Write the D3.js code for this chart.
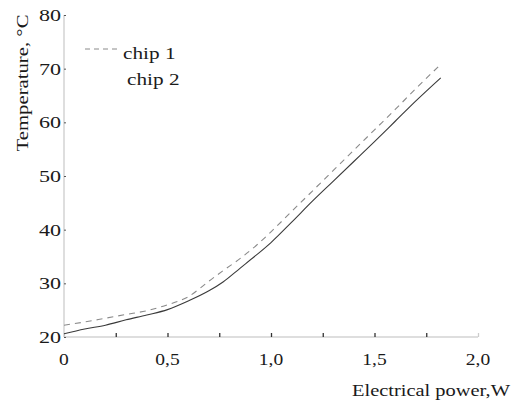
<!DOCTYPE html>
<html><head><meta charset="utf-8">
<script src="https://cdn.jsdelivr.net/npm/d3@7"></script>
<style>body{margin:0;background:#fff}svg{display:block}</style>
</head><body>
<svg id="c" width="515" height="405"></svg>
<script>
const powerW = [0, 0.1, 0.2, 0.3, 0.4, 0.5, 0.6, 0.7, 0.77, 0.85, 0.93, 1.0, 1.1, 1.2, 1.3, 1.4, 1.5, 1.6, 1.7, 1.82];
const chip1 = [22.2, 22.8, 23.5, 24.2, 24.9, 26.0, 27.5, 30.4, 32.4, 34.6, 37.1, 39.6, 43.4, 47.2, 51.0, 54.8, 58.6, 62.4, 66.3, 70.8];
const chip2 = [20.6, 21.5, 22.2, 23.2, 24.1, 25.1, 26.7, 28.6, 30.3, 32.8, 35.3, 37.6, 41.4, 45.3, 49.0, 52.7, 56.4, 60.2, 64.0, 68.3];
const xTicks = [0, 0.5, 1.0, 1.5, 2.0];
const xTickLabels = ["0", "0,5", "1,0", "1,5", "2,0"];
const xMinorTicks = [0, 0.25, 0.5, 0.75, 1.0, 1.25, 1.5, 1.75, 2.0];
const yTicks = [20, 30, 40, 50, 60, 70, 80];
const seriesNames = ["chip 1", "chip 2"];

const FONT = "'Liberation Serif', 'Times New Roman', serif";
const svg = d3.select("#c");
const x = d3.scaleLinear().domain([0, 2]).range([64, 478]);
const y = d3.scaleLinear().domain([20, 80]).range([337, 15]);

function txt(sel) { return sel.style("font-family", FONT).style("fill", "#1a1a1a"); }

// axes
const xAxis = svg.append("g").attr("transform", `translate(0,${y(20)})`)
  .call(d3.axisBottom(x).tickValues(xMinorTicks).tickSize(-4).tickFormat(""));
xAxis.select(".domain").attr("stroke", "#bdbdbd").attr("d", `M${x(0)},0H${x(2)}`);
xAxis.selectAll(".tick line").attr("stroke", "#333").attr("stroke-width", 1.3)
  .filter(d => d === 0 || d === 2).attr("stroke", "#ccc");

svg.append("g").selectAll("text").data(xTicks).join("text")
  .attr("transform", d => `translate(${x(d)},365) scale(1.15,1)`).attr("text-anchor", "middle")
  .attr("font-size", 17).text((d, i) => xTickLabels[i]).call(txt);

const yAxis = svg.append("g").attr("transform", `translate(${x(0)},0)`)
  .call(d3.axisLeft(y).tickValues(yTicks).tickSize(-2).tickFormat(d3.format("d")));
yAxis.select(".domain").attr("stroke", "#bdbdbd").attr("d", `M0,${y(80)}V${y(20)}`);
yAxis.selectAll(".tick line").attr("stroke", "#555");
yAxis.selectAll(".tick text").attr("font-size", 17).attr("transform", "scale(1.3,1)")
  .attr("x", -3 / 1.3).call(txt);

// lines
const line = d3.line().x((d, i) => x(powerW[i])).y(d => y(d)).curve(d3.curveMonotoneX);
svg.append("path").datum(chip1).attr("d", line).attr("fill", "none")
  .attr("stroke", "#8a8a8a").attr("stroke-width", 1.1).attr("stroke-dasharray", "6,5");
svg.append("path").datum(chip2).attr("d", line).attr("fill", "none")
  .attr("stroke", "#3a3a3a").attr("stroke-width", 1.1);

// legend
svg.append("line").attr("x1", 85).attr("x2", 117).attr("y1", 49).attr("y2", 49)
  .attr("stroke", "#8a8a8a").attr("stroke-width", 1).attr("stroke-dasharray", "5,4");
svg.append("text").attr("transform", "translate(123,59) scale(1.25,1)").attr("font-size", 17)
  .text(seriesNames[0]).call(txt);
svg.append("text").attr("transform", "translate(127,85) scale(1.25,1)").attr("font-size", 17)
  .text(seriesNames[1]).call(txt);

// titles
svg.append("text").attr("transform", "translate(28,83) rotate(-90) scale(1.22,1)").attr("text-anchor", "middle")
  .attr("font-size", 17).text("Temperature, °C").call(txt);
svg.append("text").attr("x", 510).attr("y", 396).attr("text-anchor", "end")
  .attr("font-size", 17).attr("textLength", 158).attr("lengthAdjust", "spacingAndGlyphs")
  .text("Electrical power,W").call(txt);
</script>
</body></html>
